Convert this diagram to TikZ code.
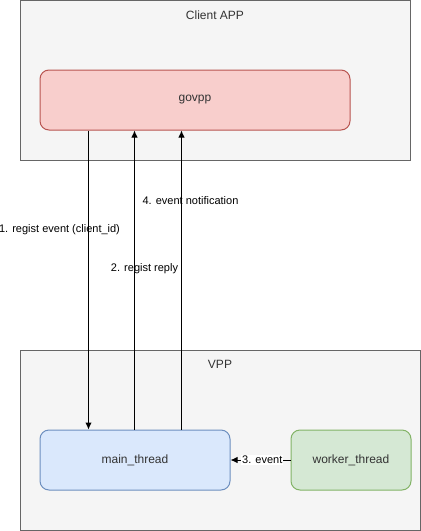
\documentclass[tikz,border=0pt]{standalone}
\usepackage{fontspec}
\setmainfont{Liberation Sans}
\usetikzlibrary{positioning,shapes,arrows.meta}
\definecolor{groupfill}{HTML}{F5F5F5}
\definecolor{groupline}{HTML}{666666}
\definecolor{grouptext}{HTML}{333333}
\definecolor{redfill}{HTML}{F8CECC}
\definecolor{redline}{HTML}{B85450}
\definecolor{bluefill}{HTML}{DAE8FC}
\definecolor{blueline}{HTML}{6C8EBF}
\definecolor{greenfill}{HTML}{D5E8D4}
\definecolor{greenline}{HTML}{82B366}
\def\dx{60pt}
\def\dy{60pt}
\tikzstyle{group}=[draw=groupline,fill=groupfill,rectangle,inner sep=0pt]
\tikzstyle{block}=[draw,rectangle,rounded corners=9pt,inner sep=0pt,minimum height=60pt,
    font=\fontsize{12}{14}\selectfont,text=black!80]
\tikzstyle{msg}=[font=\fontsize{11}{13}\selectfont,inner sep=1pt]
\newcommand{\newGroup}[4]{\node[group,#3,label={[anchor=north,yshift=-7pt,text=grouptext,font=\fontsize{12}{14}\selectfont]north:#2}](#1)[#4]{};}
\newcommand{\newBlock}[4]{\node[block,#3](#1)[#4]{#2};}
\newcommand{\newLink}[4]{\path[->] (#1) edge node[msg,#4] {#3} (#2);}

\begin{document}
\begin{tikzpicture}[x=1pt,y=-1pt,node distance=\dy and \dx,
    >={Latex[length=7pt,width=6.5pt]},line width=1pt
    ]
    \useasboundingbox (0,0) rectangle (421,531);
    % containers
    \newGroup{app}{Client APP}{minimum width=390pt,minimum height=159.5pt}{at={(215,80.25)}}
    \newGroup{vpp}{VPP}{minimum width=400pt,minimum height=180pt}{at={(220,440)}}
    % blocks
    \newBlock{govpp}{govpp}{fill=redfill,draw=redline,minimum width=310pt}{at={(195,100)}}
    \newBlock{main}{main\_thread}{fill=bluefill,draw=blueline,minimum width=190pt}{at={(135,460)}}
    \newBlock{worker}{worker\_thread}{fill=greenfill,draw=greenline,minimum width=120pt}{right=of main}
    % messages
    \newLink{[xshift=49pt]govpp.south west}{[xshift=49pt]main.north west}{1. regist event (client\_id)}{pos=0.33,xshift=-29pt}
    \newLink{[xshift=95pt]main.north west}{[xshift=95pt]govpp.south west}{2. regist reply}{pos=0.537,xshift=10pt}
    \newLink{[xshift=142pt]main.north west}{[xshift=142pt]govpp.south west}{4. event notification}{pos=0.767,xshift=9pt}
    \newLink{worker}{main}{3. event}{fill=white,pos=0.47}
  \end{tikzpicture}
\end{document}
